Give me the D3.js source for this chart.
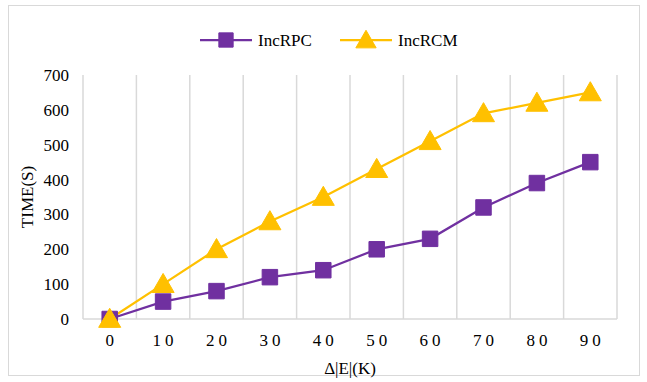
<!DOCTYPE html>
<html>
<head>
<meta charset="utf-8">
<script src="https://cdn.jsdelivr.net/npm/d3@7"></script>
<style>
  body { margin: 0; background: #fff; }
  svg text { font-family: 'Liberation Serif', 'DejaVu Serif', serif; fill: #000; }
</style>
</head>
<body>
<svg id="chart" width="647" height="382" font-family="Liberation Serif"></svg>
<script>
// values
var categories = [0, 10, 20, 30, 40, 50, 60, 70, 80, 90];
var incRPC = [0, 50, 80, 120, 140, 200, 230, 320, 390, 450];
var incRCM = [0, 100, 200, 280, 350, 430, 510, 590, 620, 650];
var yTicks = [0, 100, 200, 300, 400, 500, 600, 700];

var svg = d3.select("#chart");

// outer frame
svg.append("rect")
  .attr("x", 8.5).attr("y", 5.5)
  .attr("width", 631).attr("height", 370)
  .attr("fill", "#fff").attr("stroke", "#d9d9d9");

var plotL = 83, plotR = 617, plotT = 75, plotB = 319;

var x = d3.scaleBand().domain(categories).range([plotL, plotR]);
var y = d3.scaleLinear().domain([0, 700]).range([plotB, plotT]);

// vertical gridlines at category boundaries
var bounds = categories.map(function(c) { return x(c); }).concat([plotR]);
svg.selectAll("line.grid").data(bounds).enter().append("line")
  .attr("class", "grid")
  .attr("x1", function(d) { return d; }).attr("x2", function(d) { return d; })
  .attr("y1", plotT).attr("y2", plotB)
  .attr("stroke", "#d9d9d9").attr("stroke-width", 1.5);

// x axis line
svg.append("line")
  .attr("x1", plotL).attr("x2", plotR)
  .attr("y1", plotB).attr("y2", plotB)
  .attr("stroke", "#d9d9d9").attr("stroke-width", 1.5);

// y tick labels
svg.selectAll("text.ytick").data(yTicks).enter().append("text")
  .attr("class", "ytick")
  .attr("x", 69).attr("y", function(d) { return y(d); })
  .attr("dy", "0.35em")
  .attr("text-anchor", "end")
  .attr("font-size", 17)
  .text(function(d) { return d; });

// x tick labels (spaced digits)
svg.selectAll("text.xtick").data(categories).enter().append("text")
  .attr("class", "xtick")
  .attr("x", function(d) { return x(d) + x.bandwidth() / 2 + 2; })
  .attr("y", 346)
  .attr("text-anchor", "middle")
  .attr("font-size", 17)
  .attr("letter-spacing", "4px")
  .text(function(d) { return d; });

// axis titles
svg.append("text")
  .attr("x", 350).attr("y", 374)
  .attr("text-anchor", "middle").attr("font-size", 17)
  .text("Δ|E|(K)");

svg.append("text")
  .attr("transform", "translate(33," + ((plotT + plotB) / 2) + ") rotate(-90)")
  .attr("text-anchor", "middle").attr("font-size", 17)
  .text("TIME(S)");

var cx = function(d, i) { return x(categories[i]) + x.bandwidth() / 2; };
var line = d3.line().x(cx).y(function(d) { return y(d); });

var series = [
  { name: "IncRPC", values: incRPC, color: "#7030A0", shape: d3.symbolSquare, size: 240, dy: 0 },
  { name: "IncRCM", values: incRCM, color: "#FFC000", shape: d3.symbolTriangle, size: 210, dy: 2 }
];

series.forEach(function(s) {
  svg.append("path")
    .attr("d", line(s.values))
    .attr("fill", "none")
    .attr("stroke", s.color)
    .attr("stroke-width", 2.25);
});

series.forEach(function(s) {
  var sym = d3.symbol().type(s.shape).size(s.size);
  svg.selectAll(null).data(s.values).enter().append("path")
    .attr("d", sym)
    .attr("transform", function(d, i) { return "translate(" + cx(d, i) + "," + (y(d) + s.dy) + ")"; })
    .attr("fill", s.color)
    .attr("stroke", s.color)
    .attr("stroke-width", 1);
});

// legend
var legendX = [200, 340];
series.forEach(function(s, i) {
  var g = svg.append("g").attr("transform", "translate(" + legendX[i] + ",40)");
  g.append("line").attr("x1", 0).attr("x2", 52).attr("y1", 0).attr("y2", 0)
    .attr("stroke", s.color).attr("stroke-width", 2.25);
  g.append("path").attr("d", d3.symbol().type(s.shape).size(s.size * 0.85))
    .attr("transform", "translate(26," + s.dy + ")")
    .attr("fill", s.color).attr("stroke", s.color);
  g.append("text").attr("x", 58).attr("y", 0).attr("dy", "0.35em")
    .attr("font-size", 17).text(s.name);
});
</script>
</body>
</html>
